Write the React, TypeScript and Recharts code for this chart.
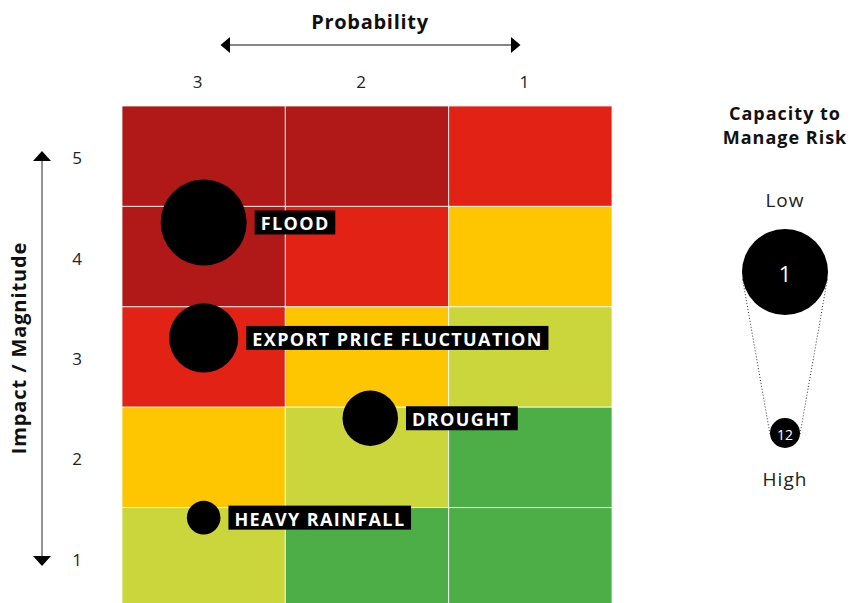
import React from 'react';
import { ScatterChart, Scatter, XAxis, YAxis, ReferenceArea } from 'recharts';

const probabilityTicks = [3, 2, 1];
const impactTicks = [5, 4, 3, 2, 1];

// risk level per cell: rows impact 5 -> 1, columns probability 3 -> 1
const riskGrid = [
  ['severe', 'severe', 'high'],
  ['severe', 'high', 'medium'],
  ['high', 'medium', 'low'],
  ['medium', 'low', 'minimal'],
  ['low', 'minimal', 'minimal'],
];
const riskColors: Record<string, string> = {
  severe: '#b01917',
  high: '#e32216',
  medium: '#fdc600',
  low: '#cbd63c',
  minimal: '#4dae47',
};

const riskNames = ['FLOOD', 'EXPORT PRICE FLUCTUATION', 'DROUGHT', 'HEAVY RAINFALL'];
const riskProbability = [3, 3, 1.98, 3];
const riskImpact = [4.34, 3.19, 2.39, 1.4];
const riskCapacity = [1, 4.3, 7, 11.3];

const capacityLegend = [1, 12];

const FONT = '"Open Sans", sans-serif';
const LABEL_SIZE = 18;
const LABEL_SPACING = 1.4;

const risks = riskNames.map((name, i) => ({
  name,
  p: riskProbability[i],
  i: riskImpact[i],
  capacity: riskCapacity[i],
}));

const cells = riskGrid.flatMap((row, r) =>
  row.map((level, c) => ({ p: probabilityTicks[c], i: impactTicks[r], level }))
);

// capacity 1 -> big bubble, 12 -> small bubble
const capacityRadius = (c: number) => 43 - ((c - 1) * 28) / 11;

const measureCtx = typeof document !== 'undefined' ? document.createElement('canvas').getContext('2d') : null;
function textWidth(s: string) {
  if (!measureCtx) return s.length * 11;
  measureCtx.font = `700 ${LABEL_SIZE}px ${FONT}`;
  return measureCtx.measureText(s).width + LABEL_SPACING * (s.length - 1);
}

const Bubble = (props: any) => {
  const { cx, cy, payload } = props;
  const r = capacityRadius(payload.capacity);
  const w = textWidth(payload.name) + 13;
  const bx = cx + r + 8;
  return (
    <g>
      <circle cx={cx} cy={cy} r={r} fill="#000" />
      <rect x={bx} y={cy - 12} width={w} height={24} fill="#000" />
      <text
        x={bx + 6}
        y={cy + 1}
        dominantBaseline="central"
        fill="#fff"
        fontFamily={FONT}
        fontWeight={700}
        fontSize={LABEL_SIZE}
        letterSpacing={LABEL_SPACING}
      >
        {payload.name}
      </text>
    </g>
  );
};

const tickStyle = { fill: '#222', fontSize: 17, fontFamily: FONT };
const titleProps = { fontWeight: 700, fontSize: 19, letterSpacing: 0.7, fill: '#111', textAnchor: 'middle' as const, dominantBaseline: 'central' as const };

export default function App() {
  const big = capacityRadius(capacityLegend[0]);
  const small = capacityRadius(capacityLegend[1]);
  const lx = 785;
  const ly1 = 272;
  const ly2 = 433;
  const sinA = (big - small) / (ly2 - ly1);
  const cosA = Math.sqrt(1 - sinA * sinA);

  return (
    <div style={{ position: 'fixed', left: 0, top: 0, width: 854, height: 603, overflow: 'hidden', background: '#fff' }}>
      <ScatterChart width={854} height={610} margin={{ top: 66, right: 242, bottom: 2, left: 62 }}>
        <XAxis
          type="number"
          dataKey="p"
          orientation="top"
          reversed
          domain={[0.5, 3.5]}
          ticks={probabilityTicks}
          axisLine={false}
          tickLine={false}
          tickSize={0}
          tickMargin={18}
          height={40}
          tick={{ ...tickStyle, dx: -6 }}
        />
        <YAxis
          type="number"
          dataKey="i"
          domain={[0.5, 5.5]}
          ticks={impactTicks}
          axisLine={false}
          tickLine={false}
          tickSize={0}
          tickMargin={40}
          width={60}
          tick={{ ...tickStyle, dy: 2 }}
        />
        {cells.map((c) => (
          <ReferenceArea
            key={`${c.p}-${c.i}`}
            x1={c.p - 0.5}
            x2={c.p + 0.5}
            y1={c.i - 0.5}
            y2={c.i + 0.5}
            fill={riskColors[c.level]}
            fillOpacity={1}
            stroke="#fff"
            strokeOpacity={0.75}
            strokeWidth={1}
          />
        ))}
        <Scatter data={risks} isAnimationActive={false} shape={(p: any) => <Bubble {...p} />} />
      </ScatterChart>

      <svg width={854} height={603} style={{ position: 'absolute', left: 0, top: 0, pointerEvents: 'none' }}>
        <g fontFamily={FONT}>
          <text x={370} y={21} {...titleProps} fontSize={20}>
            Probability
          </text>
          <line x1={228} x2={512} y1={45} y2={45} stroke="#111" strokeWidth={1.2} />
          <polygon points="220.5,45 230,37 230,53" fill="#000" />
          <polygon points="520.5,45 511,37 511,53" fill="#000" />

          <line x1={42} x2={42} y1={158} y2={558} stroke="#777" strokeWidth={1.6} />
          <polygon points="42,151 33,161 51,161" fill="#000" />
          <polygon points="42,566 33,556 51,556" fill="#000" />
          <text x={18} y={348} transform="rotate(-90 18 348)" {...titleProps} fontSize={20} letterSpacing={0.9}>
            Impact / Magnitude
          </text>

          <text x={lx} y={113} {...titleProps} fontSize={18} letterSpacing={1}>
            Capacity to
          </text>
          <text x={lx} y={137} {...titleProps} fontSize={18} letterSpacing={1}>
            Manage Risk
          </text>
          <text x={lx} y={200} textAnchor="middle" dominantBaseline="central" fontSize={19} letterSpacing={1} fill="#222">
            Low
          </text>
          <text x={lx} y={479} textAnchor="middle" dominantBaseline="central" fontSize={19} letterSpacing={1} fill="#222">
            High
          </text>
          <line
            x1={lx - big * cosA}
            y1={ly1 + big * sinA}
            x2={lx - small * cosA}
            y2={ly2 + small * sinA}
            stroke="#333"
            strokeDasharray="1 2"
          />
          <line
            x1={lx + big * cosA}
            y1={ly1 + big * sinA}
            x2={lx + small * cosA}
            y2={ly2 + small * sinA}
            stroke="#333"
            strokeDasharray="1 2"
          />
          <circle cx={lx} cy={ly1} r={big} fill="#000" />
          <circle cx={lx} cy={ly2} r={small} fill="#000" />
          <text x={lx} y={ly1 + 1} textAnchor="middle" dominantBaseline="central" fontSize={22} fill="#fff">
            {capacityLegend[0]}
          </text>
          <text x={lx} y={ly2 + 1} textAnchor="middle" dominantBaseline="central" fontSize={14} fill="#fff">
            {capacityLegend[1]}
          </text>
        </g>
      </svg>
    </div>
  );
}
